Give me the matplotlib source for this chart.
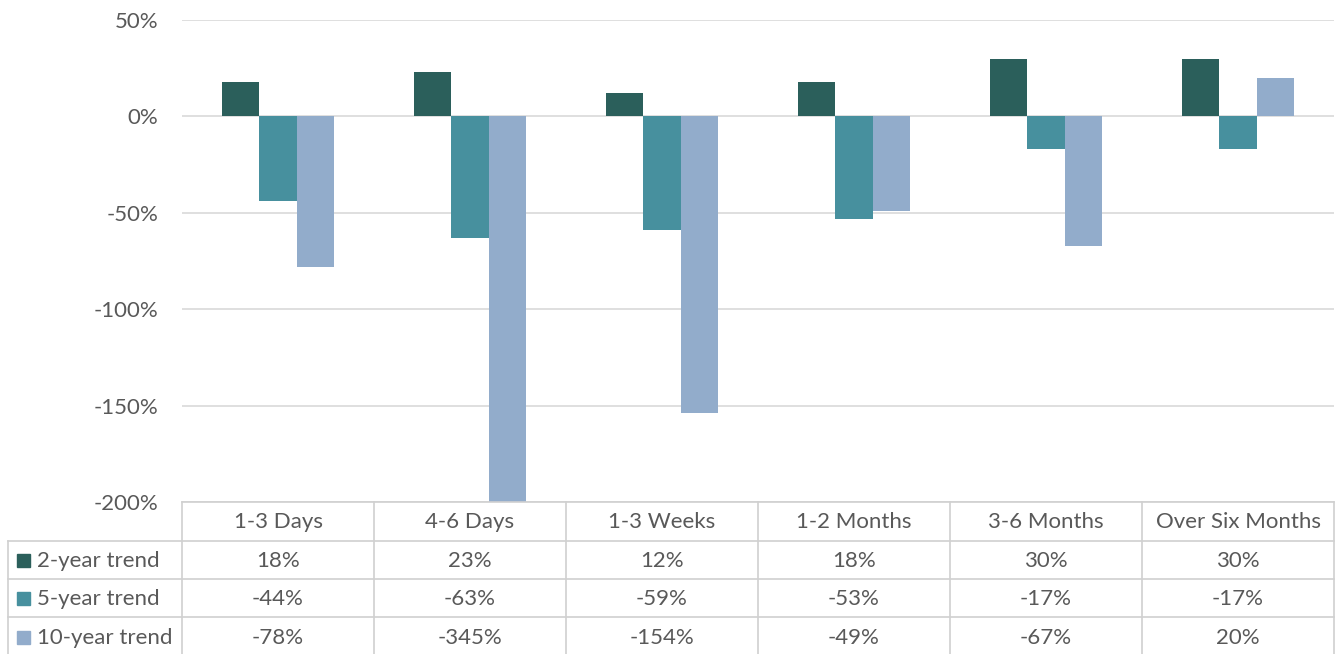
import matplotlib.pyplot as plt
import numpy as np

categories = ["1-3 Days", "4-6 Days", "1-3 Weeks", "1-2 Months", "3-6 Months", "Over Six Months"]
series_names = ["2-year trend", "5-year trend", "10-year trend"]
trend_2y = [18, 23, 12, 18, 30, 30]
trend_5y = [-44, -63, -59, -53, -17, -17]
trend_10y = [-78, -345, -154, -49, -67, 20]
y_ticks = [50, 0, -50, -100, -150, -200]

COLORS = ["#2B5F5B", "#47909E", "#92ACCB"]
TEXT = "#595959"
GRID = "#D9D9D9"
W, H = 1342, 654
FS = 16

plt.rcParams["font.family"] = ["Lato", "DejaVu Sans"]

fig = plt.figure(figsize=(W / 100, H / 100), dpi=100)

# plot area in pixel terms
x0, x1 = 182, 1334
ytop, ybot = 20, 502
ax = fig.add_axes([x0 / W, 1 - ybot / H, (x1 - x0) / W, (ybot - ytop) / H])

series = [trend_2y, trend_5y, trend_10y]
x = np.arange(len(categories))
bw = 0.193
for i, (vals, color) in enumerate(zip(series, COLORS)):
    ax.bar(x + (i - 1) * bw, vals, width=bw, color=color, zorder=3, label=series_names[i])

ax.set_xlim(-0.5, len(categories) - 0.5)
ax.set_ylim(-200, 50)
ax.set_yticks(y_ticks)
ax.set_yticklabels([f"{t}%" for t in y_ticks], color=TEXT, fontsize=FS)
ax.set_xticks([])
ax.tick_params(axis="y", length=0, pad=17)
ax.grid(True, axis="y", color=GRID, linewidth=1.2, zorder=0)
for s in ax.spines.values():
    s.set_visible(False)

# data table drawn underneath in pixel coordinates
tab = fig.add_axes([0, 0, 1, 1])
tab.set_xlim(0, W)
tab.set_ylim(H, 0)
tab.axis("off")
tab.patch.set_alpha(0)

col_w = (x1 - x0) / len(categories)
row_y = [502, 541, 579, 617, 656]
left = 8
lc = "#D0D0D0"

tab.plot([x0, x1], [row_y[0], row_y[0]], color=lc, lw=1.2)
for r in range(1, 5):
    tab.plot([left, x1], [row_y[r], row_y[r]], color=lc, lw=1.2)
for c in range(len(categories) + 1):
    xc = x0 + c * col_w
    tab.plot([xc, xc], [row_y[0], row_y[-1]], color=lc, lw=1.2)
tab.plot([left, left], [row_y[1], row_y[-1]], color=lc, lw=1.2)

for c, cat in enumerate(categories):
    tab.text(x0 + (c + 0.5) * col_w, (row_y[0] + row_y[1]) / 2 + 1, cat,
             ha="center", va="center", color=TEXT, fontsize=FS)

for r, (name, vals, color) in enumerate(zip(series_names, series, COLORS)):
    yc = (row_y[r + 1] + row_y[r + 2]) / 2 + 1
    tab.add_patch(plt.Rectangle((17, yc - 7), 13, 13, color=color))
    tab.text(37, yc, name, ha="left", va="center", color=TEXT, fontsize=FS)
    for c, v in enumerate(vals):
        tab.text(x0 + (c + 0.5) * col_w, yc, f"{v}%",
                 ha="center", va="center", color=TEXT, fontsize=FS)

fig.savefig("out.png", dpi=100)
